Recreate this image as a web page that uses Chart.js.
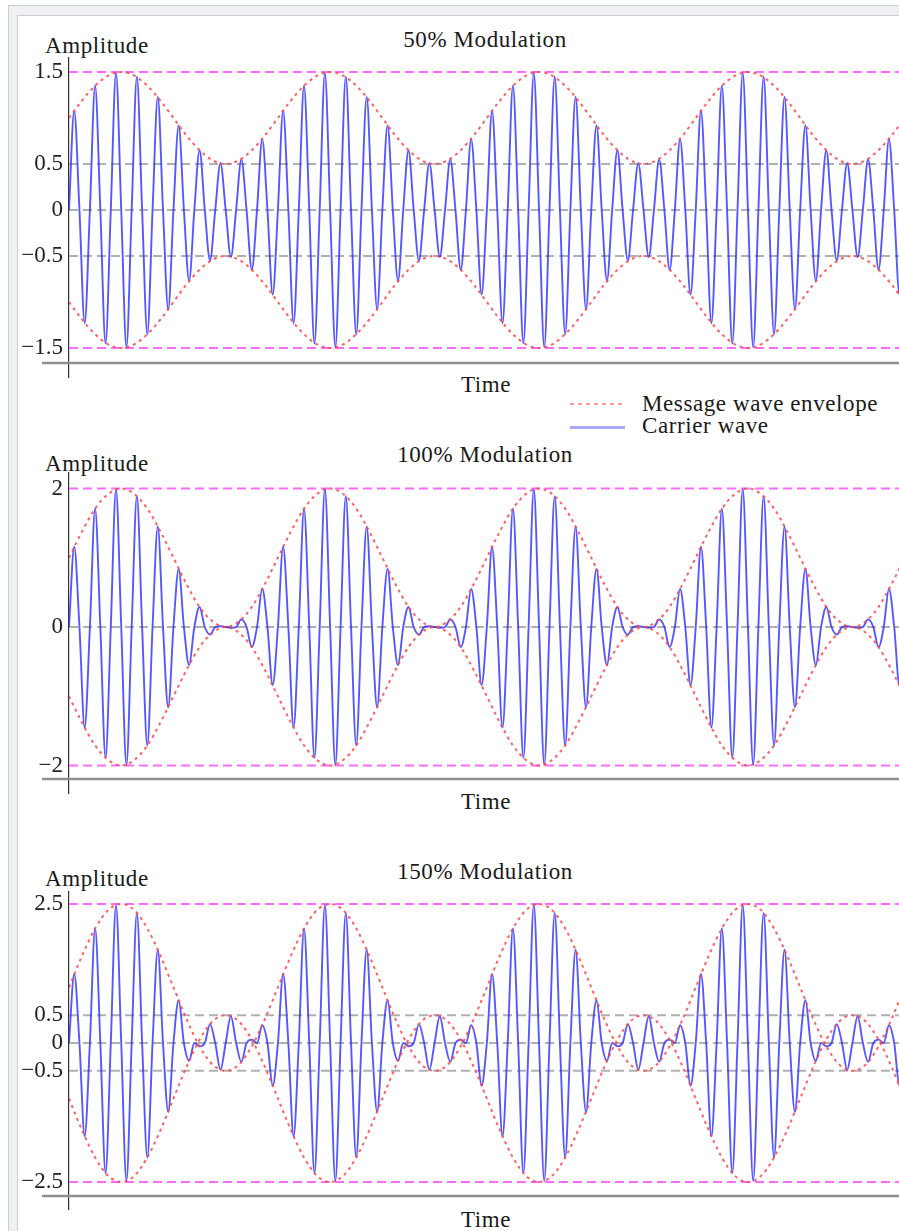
<!DOCTYPE html>
<html><head><meta charset="utf-8">
<script src="https://cdn.jsdelivr.net/npm/chart.js@4/dist/chart.umd.min.js"></script>
<style>
html,body{margin:0;padding:0;background:#fff;width:899px;height:1231px;overflow:hidden;position:relative;}
.frameOuter{position:absolute;left:8px;top:5px;width:1000px;height:1300px;border:1px solid #c9cdd4;background:#eef0f4;}
.frameInner{position:absolute;left:17px;top:15px;width:1000px;height:1300px;border-left:1px solid #c9cdd4;border-top:1px solid #c9cdd4;background:#fff;}
canvas{position:absolute;left:0;}
.t{position:absolute;font-family:'Liberation Serif','Times New Roman',serif;font-size:23px;color:#1a1a1a;letter-spacing:0.6px;white-space:nowrap;line-height:1;}
.c{transform:translateX(-50%);}
.lg{position:absolute;height:2px;}
</style></head>
<body>
<div class="frameOuter"></div>
<div class="frameInner"></div>

<div class="t" style="left:45px;top:34px;">Amplitude</div>
<div class="t c" style="left:485px;top:28px;">50% Modulation</div>
<div class="t c" style="left:486px;top:373px;">Time</div>

<div class="lg" style="left:570px;top:403px;width:52px;background:repeating-linear-gradient(to right,#ff9a9a 0 4px,transparent 4px 8px);"></div>
<div class="t" style="left:642px;top:392px;">Message wave envelope</div>
<div class="lg" style="left:570px;top:426px;width:55px;height:3px;background:#a8a8ff;"></div>
<div class="t" style="left:642px;top:414px;">Carrier wave</div>

<div class="t" style="left:45px;top:452px;">Amplitude</div>
<div class="t c" style="left:485px;top:443px;">100% Modulation</div>
<div class="t c" style="left:486px;top:790px;">Time</div>

<div class="t" style="left:45px;top:867px;">Amplitude</div>
<div class="t c" style="left:485px;top:860px;">150% Modulation</div>
<div class="t c" style="left:486px;top:1208px;">Time</div>

<script>
// ---- data ----
const carrierTime = [
0,0.25,0.5,0.75,1,1.25,1.5,1.75,2,2.25,2.5,2.75,3,3.25,3.5,3.75,4,4.25,4.5,4.75,
5,5.25,5.5,5.75,6,6.25,6.5,6.75,7,7.25,7.5,7.75,8,8.25,8.5,8.75,9,9.25,9.5,9.75,
10,10.25,10.5,10.75,11,11.25,11.5,11.75,12,12.25,12.5,12.75,13,13.25,13.5,13.75,14,14.25,14.5,14.75,
15,15.25,15.5,15.75,16,16.25,16.5,16.75,17,17.25,17.5,17.75,18,18.25,18.5,18.75,19,19.25,19.5,19.75,
20,20.25,20.5,20.75,21,21.25,21.5,21.75,22,22.25,22.5,22.75,23,23.25,23.5,23.75,24,24.25,24.5,24.75,
25,25.25,25.5,25.75,26,26.25,26.5,26.75,27,27.25,27.5,27.75,28,28.25,28.5,28.75,29,29.25,29.5,29.75,
30,30.25,30.5,30.75,31,31.25,31.5,31.75,32,32.25,32.5,32.75,33,33.25,33.5,33.75,34,34.25,34.5,34.75,
35,35.25,35.5,35.75,36,36.25,36.5,36.75,37,37.25,37.5,37.75,38,38.25,38.5,38.75,39,39.25,39.5,39.75,
40];

const carrier50 = [
0,1.08,0,-1.23,0,1.35,0,-1.45,0,1.49,0,-1.49,0,1.45,0,-1.35,0,1.23,0,-1.08,
0,0.92,0,-0.77,0,0.65,0,-0.55,0,0.51,0,-0.51,0,0.55,0,-0.65,0,0.77,0,-0.92,
0,1.08,0,-1.23,0,1.35,0,-1.45,0,1.49,0,-1.49,0,1.45,0,-1.35,0,1.23,0,-1.08,
0,0.92,0,-0.77,0,0.65,0,-0.55,0,0.51,0,-0.51,0,0.55,0,-0.65,0,0.77,0,-0.92,
0,1.08,0,-1.23,0,1.35,0,-1.45,0,1.49,0,-1.49,0,1.45,0,-1.35,0,1.23,0,-1.08,
0,0.92,0,-0.77,0,0.65,0,-0.55,0,0.51,0,-0.51,0,0.55,0,-0.65,0,0.77,0,-0.92,
0,1.08,0,-1.23,0,1.35,0,-1.45,0,1.49,0,-1.49,0,1.45,0,-1.35,0,1.23,0,-1.08,
0,0.92,0,-0.77,0,0.65,0,-0.55,0,0.51,0,-0.51,0,0.55,0,-0.65,0,0.77,0,-0.92,
0];

const carrier100 = [
0,1.16,0,-1.45,0,1.71,0,-1.89,0,1.99,0,-1.99,0,1.89,0,-1.71,0,1.45,0,-1.16,
0,0.84,0,-0.55,0,0.29,0,-0.11,0,0.01,0,-0.01,0,0.11,0,-0.29,0,0.55,0,-0.84,
0,1.16,0,-1.45,0,1.71,0,-1.89,0,1.99,0,-1.99,0,1.89,0,-1.71,0,1.45,0,-1.16,
0,0.84,0,-0.55,0,0.29,0,-0.11,0,0.01,0,-0.01,0,0.11,0,-0.29,0,0.55,0,-0.84,
0,1.16,0,-1.45,0,1.71,0,-1.89,0,1.99,0,-1.99,0,1.89,0,-1.71,0,1.45,0,-1.16,
0,0.84,0,-0.55,0,0.29,0,-0.11,0,0.01,0,-0.01,0,0.11,0,-0.29,0,0.55,0,-0.84,
0,1.16,0,-1.45,0,1.71,0,-1.89,0,1.99,0,-1.99,0,1.89,0,-1.71,0,1.45,0,-1.16,
0,0.84,0,-0.55,0,0.29,0,-0.11,0,0.01,0,-0.01,0,0.11,0,-0.29,0,0.55,0,-0.84,
0];

const carrier150 = [
0,1.24,0,-1.68,0,2.06,0,-2.34,0,2.48,0,-2.48,0,2.34,0,-2.06,0,1.68,0,-1.24,
0,0.77,0,-0.32,0,-0.06,0,0.34,0,-0.48,0,0.48,0,-0.34,0,0.06,0,0.32,0,-0.77,
0,1.24,0,-1.68,0,2.06,0,-2.34,0,2.48,0,-2.48,0,2.34,0,-2.06,0,1.68,0,-1.24,
0,0.77,0,-0.32,0,-0.06,0,0.34,0,-0.48,0,0.48,0,-0.34,0,0.06,0,0.32,0,-0.77,
0,1.24,0,-1.68,0,2.06,0,-2.34,0,2.48,0,-2.48,0,2.34,0,-2.06,0,1.68,0,-1.24,
0,0.77,0,-0.32,0,-0.06,0,0.34,0,-0.48,0,0.48,0,-0.34,0,0.06,0,0.32,0,-0.77,
0,1.24,0,-1.68,0,2.06,0,-2.34,0,2.48,0,-2.48,0,2.34,0,-2.06,0,1.68,0,-1.24,
0,0.77,0,-0.32,0,-0.06,0,0.34,0,-0.48,0,0.48,0,-0.34,0,0.06,0,0.32,0,-0.77,
0];

const envTime = [
0,0.625,1.25,1.875,2.5,3.125,3.75,4.375,5,5.625,6.25,6.875,7.5,8.125,8.75,9.375,
10,10.625,11.25,11.875,12.5,13.125,13.75,14.375,15,15.625,16.25,16.875,17.5,18.125,18.75,19.375,
20,20.625,21.25,21.875,22.5,23.125,23.75,24.375,25,25.625,26.25,26.875,27.5,28.125,28.75,29.375,
30,30.625,31.25,31.875,32.5,33.125,33.75,34.375,35,35.625,36.25,36.875,37.5,38.125,38.75,39.375,
40];

const env50Upper = [
1,1.19,1.35,1.46,1.5,1.46,1.35,1.19,1,0.81,0.65,0.54,0.5,0.54,0.65,0.81,
1,1.19,1.35,1.46,1.5,1.46,1.35,1.19,1,0.81,0.65,0.54,0.5,0.54,0.65,0.81,
1,1.19,1.35,1.46,1.5,1.46,1.35,1.19,1,0.81,0.65,0.54,0.5,0.54,0.65,0.81,
1,1.19,1.35,1.46,1.5,1.46,1.35,1.19,1,0.81,0.65,0.54,0.5,0.54,0.65,0.81,
1];
const env50Lower = [
-1,-1.19,-1.35,-1.46,-1.5,-1.46,-1.35,-1.19,-1,-0.81,-0.65,-0.54,-0.5,-0.54,-0.65,-0.81,
-1,-1.19,-1.35,-1.46,-1.5,-1.46,-1.35,-1.19,-1,-0.81,-0.65,-0.54,-0.5,-0.54,-0.65,-0.81,
-1,-1.19,-1.35,-1.46,-1.5,-1.46,-1.35,-1.19,-1,-0.81,-0.65,-0.54,-0.5,-0.54,-0.65,-0.81,
-1,-1.19,-1.35,-1.46,-1.5,-1.46,-1.35,-1.19,-1,-0.81,-0.65,-0.54,-0.5,-0.54,-0.65,-0.81,
-1];
const env100Upper = [
1,1.38,1.71,1.92,2,1.92,1.71,1.38,1,0.62,0.29,0.08,0,0.08,0.29,0.62,
1,1.38,1.71,1.92,2,1.92,1.71,1.38,1,0.62,0.29,0.08,0,0.08,0.29,0.62,
1,1.38,1.71,1.92,2,1.92,1.71,1.38,1,0.62,0.29,0.08,0,0.08,0.29,0.62,
1,1.38,1.71,1.92,2,1.92,1.71,1.38,1,0.62,0.29,0.08,0,0.08,0.29,0.62,
1];
const env100Lower = [
-1,-1.38,-1.71,-1.92,-2,-1.92,-1.71,-1.38,-1,-0.62,-0.29,-0.08,0,-0.08,-0.29,-0.62,
-1,-1.38,-1.71,-1.92,-2,-1.92,-1.71,-1.38,-1,-0.62,-0.29,-0.08,0,-0.08,-0.29,-0.62,
-1,-1.38,-1.71,-1.92,-2,-1.92,-1.71,-1.38,-1,-0.62,-0.29,-0.08,0,-0.08,-0.29,-0.62,
-1,-1.38,-1.71,-1.92,-2,-1.92,-1.71,-1.38,-1,-0.62,-0.29,-0.08,0,-0.08,-0.29,-0.62,
-1];
const env150Upper = [
1,1.57,2.06,2.39,2.5,2.39,2.06,1.57,1,0.43,-0.06,-0.39,-0.5,-0.39,-0.06,0.43,
1,1.57,2.06,2.39,2.5,2.39,2.06,1.57,1,0.43,-0.06,-0.39,-0.5,-0.39,-0.06,0.43,
1,1.57,2.06,2.39,2.5,2.39,2.06,1.57,1,0.43,-0.06,-0.39,-0.5,-0.39,-0.06,0.43,
1,1.57,2.06,2.39,2.5,2.39,2.06,1.57,1,0.43,-0.06,-0.39,-0.5,-0.39,-0.06,0.43,
1];
const env150Lower = [
-1,-1.57,-2.06,-2.39,-2.5,-2.39,-2.06,-1.57,-1,-0.43,0.06,0.39,0.5,0.39,0.06,-0.43,
-1,-1.57,-2.06,-2.39,-2.5,-2.39,-2.06,-1.57,-1,-0.43,0.06,0.39,0.5,0.39,0.06,-0.43,
-1,-1.57,-2.06,-2.39,-2.5,-2.39,-2.06,-1.57,-1,-0.43,0.06,0.39,0.5,0.39,0.06,-0.43,
-1,-1.57,-2.06,-2.39,-2.5,-2.39,-2.06,-1.57,-1,-0.43,0.06,0.39,0.5,0.39,0.06,-0.43,
-1];

const yTicks50 = [-1.5, -0.5, 0, 0.5, 1.5];
const yTicks100 = [-2, 0, 2];
const yTicks150 = [-2.5, -0.5, 0, 0.5, 2.5];
const peaks = [1.5, 2, 2.5];

// ---- drawing ----
const FONT = "'Liberation Serif','Times New Roman',serif";
const X_MIN = 0, X_MAX = 39.73, AXIS_START = -1.29;

const panels = [
  {top:0,   height:410, padTop:58, padBottom:33, yMin:-1.815, yMax:1.652, axisY:-1.663, ticks:yTicks50,  carrier:carrier50,  up:env50Upper,  lo:env50Lower,  peak:peaks[0]},
  {top:410, height:410, padTop:63, padBottom:27, yMin:-2.397, yMax:2.224, axisY:-2.195, ticks:yTicks100, carrier:carrier100, up:env100Upper, lo:env100Lower, peak:peaks[1]},
  {top:820, height:411, padTop:72, padBottom:22, yMin:-2.986, yMax:2.716, axisY:-2.752, ticks:yTicks150, carrier:carrier150, up:env150Upper, lo:env150Lower, peak:peaks[2]}
];

function pts(xs, ys){ return xs.map((x,i)=>({x:x, y:ys[i]})); }
function fmt(v){ return v < 0 ? '\u2212' + Math.abs(v) : String(v); }

panels.forEach(p => {
  const cv = document.createElement('canvas');
  cv.width = 899; cv.height = p.height;
  cv.style.top = p.top + 'px';
  cv.style.width = '899px'; cv.style.height = p.height + 'px';
  document.body.appendChild(cv);

  const refSets = p.ticks.map(v => ({
    data: [{x:X_MIN, y:v}, {x:X_MAX + 1, y:v}],
    borderColor: Math.abs(v) === p.peak ? 'rgba(255,90,255,0.9)' : 'rgba(150,150,150,0.75)',
    borderWidth: 2,
    borderDash: [9, 5],
    pointRadius: 0,
    order: 3
  }));

  const datasets = [
    {data: pts(envTime, p.up), borderColor:'rgba(255,70,70,0.85)', borderWidth:2, borderDash:[3,4],
     pointRadius:0, cubicInterpolationMode:'monotone', order:0},
    {data: pts(envTime, p.lo), borderColor:'rgba(255,70,70,0.85)', borderWidth:2, borderDash:[3,4],
     pointRadius:0, cubicInterpolationMode:'monotone', order:0},
    {data: pts(carrierTime, p.carrier), borderColor:'rgba(50,50,255,0.82)', borderWidth:1.9,
     pointRadius:0, cubicInterpolationMode:'monotone', order:1},
    ...refSets,
    {data: [{x:AXIS_START, y:p.axisY}, {x:X_MAX + 1, y:p.axisY}], borderColor:'#8f8f8f', borderWidth:2.5,
     pointRadius:0, clip:false, order:4}
  ];

  new Chart(cv, {
    type: 'line',
    data: { datasets: datasets },
    options: {
      responsive: false,
      animation: false,
      events: [],
      layout: { padding: { left:0, right:0, top:p.padTop, bottom:p.padBottom } },
      plugins: { legend:{display:false}, tooltip:{enabled:false} },
      scales: {
        x: { type:'linear', min:X_MIN, max:X_MAX, display:false },
        y: {
          type:'linear', min:p.yMin, max:p.yMax,
          afterFit: s => { s.width = 69; },
          afterBuildTicks: s => { s.ticks = p.ticks.map(v => ({value:v})); },
          grid: { display:false, drawTicks:false },
          border: { display:true, color:'#333', width:1.2 },
          ticks: { callback: v => fmt(v), font:{family:FONT, size:23}, color:'#222', padding:6 }
        }
      }
    }
  });
});
</script>
</body></html>
